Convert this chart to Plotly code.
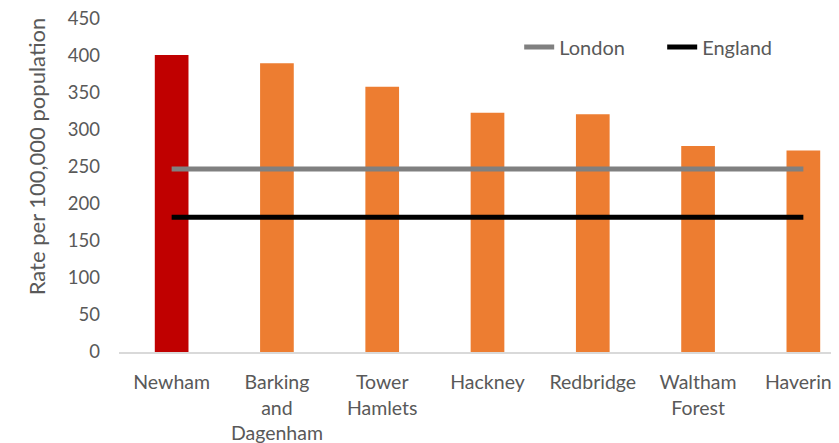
import plotly.graph_objects as go

categories = ["Newham", "Barking<br>and<br>Dagenham", "Tower<br>Hamlets", "Hackney", "Redbridge", "Waltham<br>Forest", "Havering"]
rates = [401, 390, 358, 323, 321, 278, 272]
bar_colors = ["#C00000"] + ["#ED7D31"] * 6
london = [247] * 7
england = [182] * 7
y_ticks = [0, 50, 100, 150, 200, 250, 300, 350, 400, 450]

font_family = "Lato, Open Sans, sans-serif"
text_color = "#595959"

fig = go.Figure()
fig.add_trace(go.Bar(x=categories, y=rates, marker=dict(color=bar_colors, line=dict(width=0)),
                     showlegend=False, width=0.32))
fig.add_trace(go.Scatter(x=categories, y=london, mode="lines", name="London",
                         line=dict(color="#808080", width=5)))
fig.add_trace(go.Scatter(x=categories, y=england, mode="lines", name="England",
                         line=dict(color="#000000", width=5)))

fig.update_layout(
    width=848, height=443,
    margin=dict(l=111, r=0, t=10, b=99, autoexpand=False),
    plot_bgcolor="white", paper_bgcolor="white",
    font=dict(family=font_family, size=19, color=text_color),
    legend=dict(orientation="h", x=0.543, y=0.913, xanchor="left", yanchor="middle",
                font=dict(size=20, color=text_color), bgcolor="rgba(0,0,0,0)",
                entrywidth=98, entrywidthmode="pixels", traceorder="normal"),
    xaxis=dict(range=[-0.5, 6.5], showgrid=False, showline=True, linecolor="#D9D9D9",
               linewidth=2, ticks="", ticklabelstandoff=12, automargin=False,
               tickfont=dict(size=19.5, color=text_color)),
    yaxis=dict(range=[0, 451], tickvals=y_ticks, showgrid=False, zeroline=False,
               showline=False, ticks="", ticklabelstandoff=18, automargin=False,
               ticklabeloverflow="allow",
               tickfont=dict(size=18.5, color=text_color)),
    annotations=[dict(text="Rate per 100,000 population", textangle=-90,
                      xref="paper", yref="paper", x=-0.1126, y=0.583,
                      xanchor="center", yanchor="middle", showarrow=False,
                      font=dict(size=22, color=text_color))],
)

fig.write_html("out.html")
